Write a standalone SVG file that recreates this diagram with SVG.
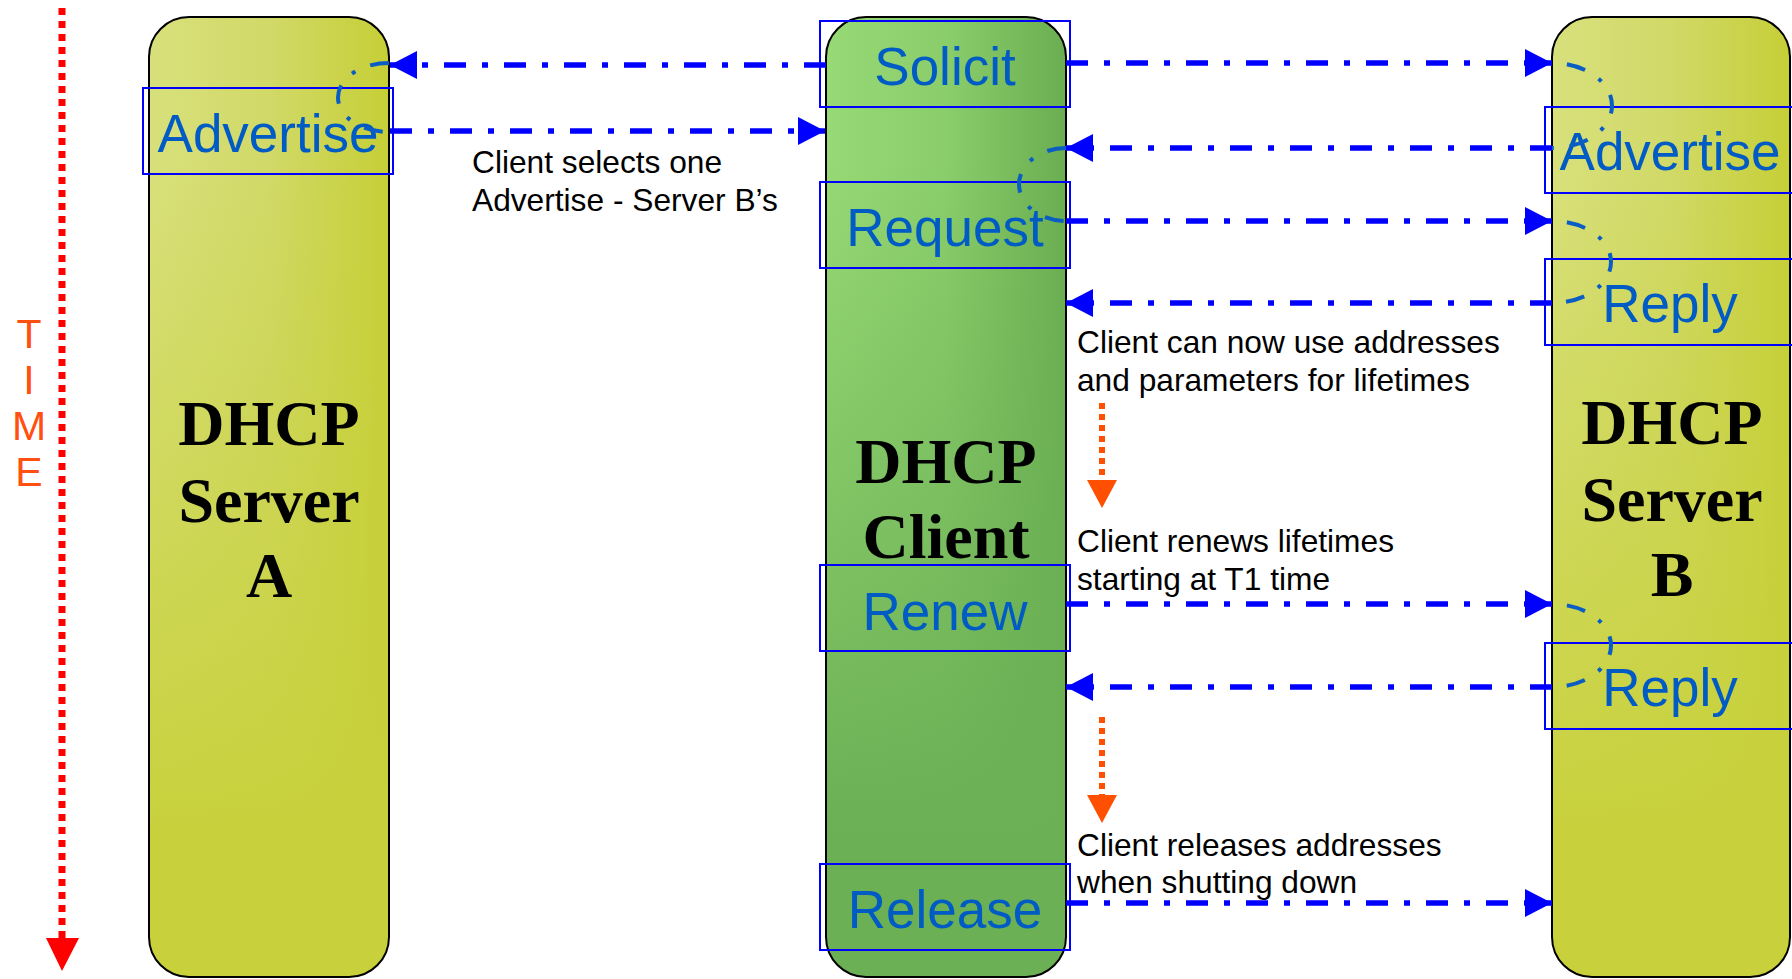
<svg xmlns="http://www.w3.org/2000/svg" width="1792" height="979" viewBox="0 0 1792 979">
<defs>
<linearGradient id="gS" x1="0" y1="0" x2="1" y2="0">
<stop offset="0" stop-color="#D8E07C"/><stop offset="0.5" stop-color="#D1D968"/><stop offset="1" stop-color="#C6CF36"/>
</linearGradient>
<linearGradient id="gSv" x1="0" y1="0" x2="0" y2="1">
<stop offset="0.15" stop-color="#C8D13C" stop-opacity="0"/><stop offset="0.85" stop-color="#C8D13C" stop-opacity="1"/>
</linearGradient>
<linearGradient id="gC" x1="0" y1="0" x2="1" y2="0">
<stop offset="0" stop-color="#97D975"/><stop offset="0.5" stop-color="#8ACD6B"/><stop offset="1" stop-color="#6BAE52"/>
</linearGradient>
<linearGradient id="gCv" x1="0" y1="0" x2="0" y2="1">
<stop offset="0.15" stop-color="#6BB055" stop-opacity="0"/><stop offset="0.85" stop-color="#6BB055" stop-opacity="1"/>
</linearGradient>
<marker id="ab" markerUnits="userSpaceOnUse" markerWidth="30" markerHeight="30" refX="27" refY="14" orient="auto">
<path d="M0,0 L27,14 L0,28 Z" fill="#0000FF"/>
</marker>
<style>
.box{stroke:#000;stroke-width:2}
.lbl{fill:none;stroke:#0000FF;stroke-width:2}
.lt{font-family:"Liberation Sans",Arial,sans-serif;font-size:53px;fill:#005BC4;text-anchor:middle}
.ttl{font-family:"Liberation Serif","Times New Roman",serif;font-size:64px;font-weight:bold;fill:#000;text-anchor:middle}
.note{font-family:"Liberation Sans",Arial,sans-serif;font-size:31.7px;fill:#000}
.msg{fill:none;stroke:#0000FF;stroke-width:5.5;stroke-dasharray:22 16 6 16;marker-end:url(#ab)}
.arc{fill:none;stroke:#0A5DC2;stroke-width:4;stroke-dasharray:19 16 4 16}
.tm{font-family:"Liberation Sans",Arial,sans-serif;font-size:41px;fill:#FF5010;text-anchor:middle}
</style>
</defs>
<rect width="1792" height="979" fill="#FFFFFF"/>

<g id="time">
<line x1="62" y1="8" x2="62" y2="940" stroke="#FF0000" stroke-width="7" stroke-dasharray="7 6"/>
<polygon points="46,938 79,938 62,971" fill="#FF0000"/>
<text class="tm" x="29" y="348">T</text>
<text class="tm" x="29" y="394">I</text>
<text class="tm" x="29" y="440">M</text>
<text class="tm" x="29" y="486">E</text>
</g>

<g id="serverA">
<rect x="149" y="17" width="240" height="960" rx="40" fill="url(#gS)"/>
<rect class="box" x="149" y="17" width="240" height="960" rx="40" fill="url(#gSv)"/>
<text class="ttl" x="269" y="445">DHCP</text>
<text class="ttl" x="269" y="522">Server</text>
<text class="ttl" x="269" y="597">A</text>
</g>

<g id="client">
<rect x="826" y="17" width="240" height="960" rx="40" fill="url(#gC)"/>
<rect class="box" x="826" y="17" width="240" height="960" rx="40" fill="url(#gCv)"/>
<text class="ttl" x="946" y="483">DHCP</text>
<text class="ttl" x="946" y="558">Client</text>
</g>

<g id="serverB">
<rect x="1552" y="17" width="238" height="960" rx="40" fill="url(#gS)"/>
<rect class="box" x="1552" y="17" width="238" height="960" rx="40" fill="url(#gSv)"/>
<text class="ttl" x="1672" y="444">DHCP</text>
<text class="ttl" x="1672" y="521">Server</text>
<text class="ttl" x="1672" y="596">B</text>
</g>

<g id="msg-advertise-a">
<rect class="lbl" x="143" y="88" width="250" height="86"/>
<text class="lt" x="268" y="152">Advertise</text>
</g>
<g id="msg-solicit">
<rect class="lbl" x="820" y="21" width="250" height="86"/>
<text class="lt" x="945" y="85">Solicit</text>
</g>
<g id="msg-request">
<rect class="lbl" x="820" y="182" width="250" height="86"/>
<text class="lt" x="945" y="246">Request</text>
</g>
<g id="msg-renew">
<rect class="lbl" x="820" y="565" width="250" height="86"/>
<text class="lt" x="945" y="630">Renew</text>
</g>
<g id="msg-release">
<rect class="lbl" x="820" y="864" width="250" height="86"/>
<text class="lt" x="945" y="928">Release</text>
</g>
<g id="msg-advertise-b">
<rect class="lbl" x="1545" y="107" width="250" height="86"/>
<text class="lt" x="1670" y="170">Advertise</text>
</g>
<g id="msg-reply-b1">
<rect class="lbl" x="1545" y="259" width="250" height="86"/>
<text class="lt" x="1670" y="322">Reply</text>
</g>
<g id="msg-reply-b2">
<rect class="lbl" x="1545" y="643" width="250" height="86"/>
<text class="lt" x="1670" y="706">Reply</text>
</g>

<g id="notes">
<text class="note" x="472" y="173">Client selects one</text>
<text class="note" x="472" y="211">Advertise - Server B’s</text>
<text class="note" x="1077" y="353">Client can now use addresses</text>
<text class="note" x="1077" y="391">and parameters for lifetimes</text>
<text class="note" x="1077" y="552">Client renews lifetimes</text>
<text class="note" x="1077" y="590">starting at T1 time</text>
<text class="note" x="1077" y="856">Client releases addresses</text>
<text class="note" x="1077" y="893">when shutting down</text>
</g>

<g id="connectors">
<path class="arc" d="M389,63 A51,34.5 0 0 0 389,132"/>
<path class="arc" d="M1066,148 A47,36.5 0 0 0 1066,221"/>
<path class="arc" style="stroke-dashoffset:40" d="M1552,63 A60,42.5 0 0 1 1552,148"/>
<path class="arc" style="stroke-dashoffset:40" d="M1552,221 A59,41 0 0 1 1552,303"/>
<path class="arc" style="stroke-dashoffset:40" d="M1552,604 A59,41.5 0 0 1 1552,687"/>
<line class="msg" x1="826" y1="65" x2="390" y2="65"/>
<line class="msg" x1="390" y1="131" x2="825" y2="131"/>
<line class="msg" x1="1066" y1="63" x2="1552" y2="63"/>
<line class="msg" x1="1552" y1="148" x2="1066" y2="148"/>
<line class="msg" x1="1066" y1="221" x2="1552" y2="221"/>
<line class="msg" x1="1552" y1="303" x2="1066" y2="303"/>
<line class="msg" x1="1066" y1="604" x2="1552" y2="604"/>
<line class="msg" x1="1552" y1="687" x2="1066" y2="687"/>
<line class="msg" x1="1066" y1="903" x2="1552" y2="903"/>
<line x1="1102" y1="403" x2="1102" y2="482" stroke="#FF4F00" stroke-width="6" stroke-dasharray="6 5"/>
<polygon points="1087,480 1117,480 1102,508" fill="#FF4F00"/>
<line x1="1102" y1="717" x2="1102" y2="797" stroke="#FF4F00" stroke-width="6" stroke-dasharray="6 5"/>
<polygon points="1087,795 1117,795 1102,823" fill="#FF4F00"/>
</g>
</svg>
